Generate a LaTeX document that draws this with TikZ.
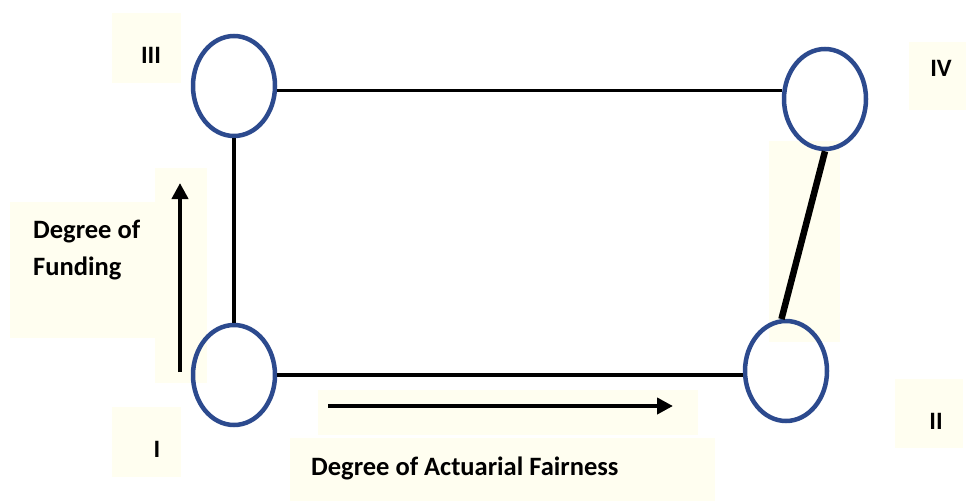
\documentclass[tikz,border=0pt]{standalone}
\usepackage{fontspec}
\setmainfont{Carlito}
\usepackage{tikz}
\usetikzlibrary{
  shapes.geometric,
  arrows.meta,
  positioning
}
\definecolor{StageBlue}{RGB}{44, 74, 142}
\definecolor{PaperIvory}{RGB}{255, 254, 240}
\tikzset{
    stage/.style={ellipse, draw=StageBlue, line width=4.5pt, minimum width=82pt, minimum height=100pt, inner sep=0pt},
    link/.style={line width=3.5pt},
    thick link/.style={line width=6.5pt},
    axis arrow/.style={line width=4pt, -{Triangle[length=16pt, width=16pt]}},
    numeral/.style={font=\fontsize{25}{30}\selectfont\bfseries, inner sep=0pt},
    axis label/.style={font=\fontsize{26.5}{37}\selectfont\bfseries, align=left, inner sep=0pt}
}

\begin{document}
\begin{tikzpicture}[x=1pt, y=-1pt]
    \useasboundingbox (0,0) rectangle (966,501);
    % pale label backgrounds
    \fill[PaperIvory] (112,13) rectangle (181,83);
    \fill[PaperIvory] (909,42) rectangle (966,110);
    \fill[PaperIvory] (112,407) rectangle (181,477);
    \fill[PaperIvory] (895,379) rectangle (963,448);
    \fill[PaperIvory] (10,202) rectangle (157,338);
    \fill[PaperIvory] (155,168) rectangle (207,383);
    \fill[PaperIvory] (318,390) rectangle (698,435);
    \fill[PaperIvory] (290,438) rectangle (715,501);
    \fill[PaperIvory] (769,141) rectangle (840,342);

    % stages
    \node[stage] (III) at (234,86) {};
    \node[stage] (IV) at (825,99) {};
    \node[stage] (I) at (234,375) {};
    \node[stage] (II) at (786,371) {};

    % connections
    \draw[link] (III.-6) -- (III.-6 -| IV.west);
    \draw[link] (III.south) -- (I.north);
    \draw[link] (I.east) -- (I.east -| II.west);
    \draw[thick link] (IV.south) -- (II.95);

    % stage numbers
    \node[numeral] (labIII) at (151,55) {III};
    \node[numeral] (labIV) at (941,68) {IV};
    \node[numeral] (labI) at (157,449) {I};
    \node[numeral] (labII) at (936,421) {II};

    % axes
    \coordinate (fundTail) at (180,372);
    \coordinate (fundHead) at (180,183);
    \coordinate (fairTail) at (328,406);
    \coordinate (fairHead) at (673,406);
    \draw[axis arrow] (fundTail) -- (fundHead);
    \draw[axis arrow] (fairTail) -- (fairHead);
    \node[axis label, anchor=base west] (funding) at (33,275) {Degree of\\Funding};
    \node[axis label, anchor=base west] (fairness) at (311,475) {Degree of Actuarial Fairness};
\end{tikzpicture}
\end{document}
